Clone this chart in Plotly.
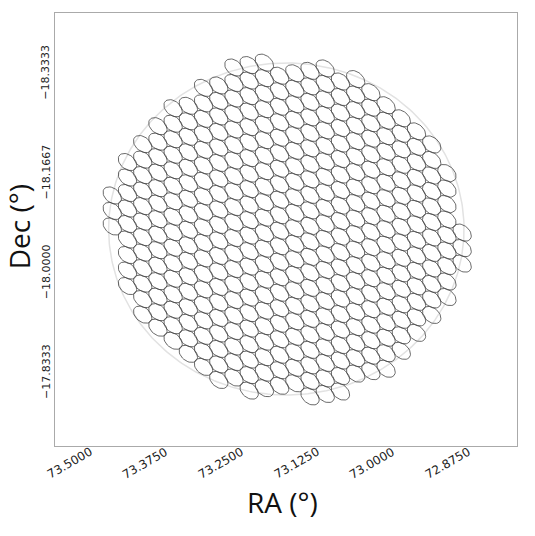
import numpy as np
import plotly.graph_objects as go

ra_tick_vals = [73.5, 73.375, 73.25, 73.125, 73.0, 72.875]
ra_tick_text = ["73.5000", "73.3750", "73.2500", "73.1250", "73.0000", "72.8750"]
dec_tick_vals = [-18.3333, -18.1667, -18.0, -17.8333]
dec_tick_text = ["\u221218.3333", "\u221218.1667", "\u221218.0000", "\u221217.8333"]

# field of view circle (deg)
field_ra = 73.1422
field_dec = -18.0723
field_r_ra = 0.2936
field_r_dec = 0.2774

# beam tiling: lattice columns and the first / last lattice row of each column
beam_columns = list(range(24))
beam_row_first = [-1, -3, -4, -5, -6, -6, -7, -7, -8, -8, -8, -7, -7, -7, -7, -6, -6, -5, -4, -3, -2, -1, 1, 5]
beam_row_last = [1, 5, 7, 8, 9, 10, 11, 12, 12, 13, 13, 13, 13, 14, 14, 14, 13, 13, 13, 12, 11, 10, 9, 7]

# lattice geometry (deg)
origin_ra = 73.4298
origin_dec = -18.1024
step_col = (-0.02513, -0.00406)
step_row = (0.0, 0.02590)

# beam shape (deg)
beam_major = 0.0173
beam_minor = 0.0118
beam_angle = 40.5

t = np.linspace(0, 2 * np.pi, 41)
th = np.deg2rad(beam_angle)
sx = beam_major * np.cos(t) * np.cos(th) - beam_minor * np.sin(t) * np.sin(th)
sy = beam_major * np.cos(t) * np.sin(th) + beam_minor * np.sin(t) * np.cos(th)
ex, ey = [], []
for i, j0, j1 in zip(beam_columns, beam_row_first, beam_row_last):
    for j in range(j0, j1 + 1):
        ra = origin_ra + i * step_col[0] + j * step_row[0]
        dec = origin_dec + i * step_col[1] + j * step_row[1]
        ex += list(ra - sx) + [None]
        ey += list(dec + sy) + [None]

fig = go.Figure()
tt = np.linspace(0, 2 * np.pi, 361)
fig.add_trace(go.Scatter(x=field_ra + field_r_ra * np.cos(tt), y=field_dec + field_r_dec * np.sin(tt),
                         mode="lines", line=dict(color="#e2e2e2", width=1.5), hoverinfo="skip"))
fig.add_trace(go.Scatter(x=ex, y=ey, mode="lines", line=dict(color="#444444", width=0.8), hoverinfo="skip"))

ann = []
for v, s in zip(ra_tick_vals, ra_tick_text):
    ann.append(dict(x=v, y=0, xref="x", yref="paper", text=s, showarrow=False, textangle=-30,
                    xanchor="center", yanchor="middle", yshift=-17,
                    font=dict(family="DejaVu Sans", size=12, color="#222")))
for v, s in zip(dec_tick_vals, dec_tick_text):
    ann.append(dict(x=0, y=v, xref="paper", yref="y", text=s, showarrow=False, textangle=-90,
                    xanchor="center", yanchor="middle", xshift=-9,
                    font=dict(family="DejaVu Sans", size=11, color="#222")))
ann.append(dict(x=0.4935, y=-0.1286, xref="paper", yref="paper", text="RA (°)", showarrow=False,
                xanchor="center", yanchor="middle", font=dict(family="Open Sans", size=28, color="#111")))
ann.append(dict(x=-0.0779, y=0.505, xref="paper", yref="paper", text="Dec (°)", showarrow=False,
                textangle=-90, xanchor="center", yanchor="middle",
                font=dict(family="Open Sans", size=28, color="#111")))

fig.update_layout(width=535, height=536, margin=dict(l=55, r=18, t=13, b=90),
                  paper_bgcolor="white", plot_bgcolor="white", showlegend=False, annotations=ann)
fig.update_xaxes(range=[73.5244, 72.7611], showgrid=False, zeroline=False, showticklabels=False,
                 ticks="", showline=True, linecolor="#aaaaaa", linewidth=1, mirror=True)
fig.update_yaxes(range=[-17.7097, -18.4332], showgrid=False, zeroline=False, showticklabels=False,
                 ticks="", showline=True, linecolor="#aaaaaa", linewidth=1, mirror=True)
fig.write_html("out.html")
